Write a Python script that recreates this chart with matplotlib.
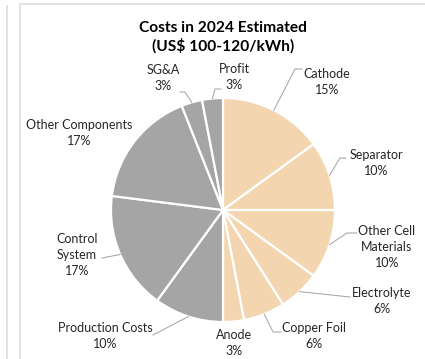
import matplotlib
matplotlib.use("Agg")
import matplotlib.pyplot as plt
import numpy as np

# Battery pack cost breakdown, 2024 estimate (share of total, %)
labels = ["Cathode", "Separator", "Other Cell\nMaterials", "Electrolyte", "Copper Foil",
          "Anode", "Production Costs", "Control\nSystem", "Other Components", "SG&A", "Profit"]
shares = [15, 10, 10, 6, 6, 3, 10, 17, 17, 3, 3]
is_cell = [True, True, True, True, True, True, False, False, False, False, False]

W, H = 425, 359
CX, CY, R = 223, H - 210, 112

CELL_COLOR = "#F3D6AF"
OTHER_COLOR = "#A5A5A5"
LINE_COLOR = "#A6A6A6"

# label centres and leader waypoints, in pixels from the top-left corner
label_pos = {
    "Cathode": (327, 82),
    "Separator": (376, 163),
    "Other Cell\nMaterials": (387, 247),
    "Electrolyte": (382, 301),
    "Copper Foil": (314, 336),
    "Anode": (234, 343),
    "Production Costs": (105, 336),
    "Control\nSystem": (77, 255),
    "Other Components": (79, 133),
    "SG&A": (163, 78),
    "Profit": (234, 77),
}
leader_pts = {
    "Cathode": [(295, 69), (302, 69)],
    "Separator": [(340, 158), (346, 158)],
    "Other Cell\nMaterials": [(347, 233), (357, 233)],
    "Electrolyte": [(350, 297)],
    "Copper Foil": [(273, 332), (281, 332)],
    "Production Costs": [(153, 335)],
    "Control\nSystem": [(102, 258)],
    "SG&A": [(185, 92), (180, 92)],
    "Profit": [(215, 89), (221, 89)],
}

plt.rcParams["font.family"] = ["Lato", "DejaVu Sans"]

fig = plt.figure(figsize=(W / 100, H / 100), dpi=100)
ax = fig.add_axes([0, 0, 1, 1])
ax.set_xlim(0, W)
ax.set_ylim(0, H)
ax.set_aspect("equal")
ax.axis("off")

colors = [CELL_COLOR if c else OTHER_COLOR for c in is_cell]
wedges, _ = ax.pie(shares, colors=colors, startangle=90, counterclock=False,
                   center=(CX, CY), radius=R,
                   wedgeprops=dict(edgecolor="white", linewidth=1.6))
ax.set_xlim(0, W)
ax.set_ylim(0, H)

# frame lines of the surrounding sheet
ax.plot([7, 7], [0, H - 6], color="#E2E2E2", lw=1.4)
ax.plot([20.5, 20.5, W], [0, H - 3.5, H - 3.5], color="#E2E2E2", lw=1.4)

ax.text(CX, H - 37.5, "Costs in 2024 Estimated\n(US$ 100-120/kWh)", ha="center", va="center",
        fontsize=11.2, fontweight="bold", color="black", linespacing=1.3)

total = sum(shares)
start = 0.0
for name, val in zip(labels, shares):
    mid = np.radians(start + 360 * val / total / 2)
    start += 360 * val / total
    x, y = label_pos[name]
    ax.text(x, H - y, f"{name}\n{val}%", ha="center", va="center", fontsize=9,
            color="#262626", linespacing=1.4)
    if name in leader_pts:
        ex, ey = CX + R * np.sin(mid), CY + R * np.cos(mid)
        xs = [ex] + [p[0] for p in leader_pts[name]]
        ys = [ey] + [H - p[1] for p in leader_pts[name]]
        ax.plot(xs, ys, color=LINE_COLOR, lw=0.75)

fig.savefig("out.png", dpi=100)
